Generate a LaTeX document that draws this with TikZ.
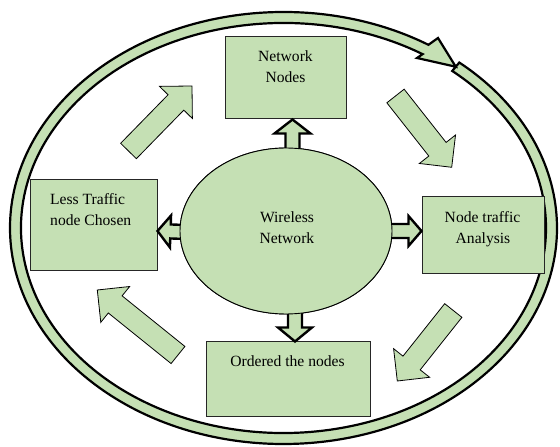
\documentclass[tikz,border=0pt]{standalone}
\usepackage{fontspec}
\setmainfont{Liberation Serif}
\usetikzlibrary{calc,shapes.geometric}
\definecolor{leaf}{HTML}{C5E0B4}

% Block arrow from #2 to the tip #3: #4 half shaft width, #5 half head width, #6 head length
\newcommand\blockarrow[6]{%
  \draw[#1] ($(#2)!#4!90:(#3)$)
    -- ($($(#3)!#6!(#2)$)!#4!90:(#3)$)
    -- ($($(#3)!#6!(#2)$)!#5!90:(#3)$)
    -- (#3)
    -- ($($(#3)!#6!(#2)$)!#5!-90:(#3)$)
    -- ($($(#3)!#6!(#2)$)!#4!-90:(#3)$)
    -- ($(#2)!#4!-90:(#3)$) -- cycle;}

\begin{document}
\begin{tikzpicture}[x=1pt,y=1pt,
  ring/.style={fill=leaf,draw=black,line width=2.2pt,line join=miter},
  bigarrow/.style={fill=leaf,draw=black,line width=0.8pt,line join=miter},
  linkarrow/.style={fill=leaf,draw=black,line width=2.4pt,line join=miter},
  stepbox/.style={rectangle,fill=leaf,draw=black!85,line width=1pt,inner sep=0pt},
  hub/.style={ellipse,fill=leaf,draw=black,line width=0.9pt,inner sep=0pt,
              minimum width=212pt,minimum height=166pt},
  label/.style={font=\fontsize{15.6}{18}\selectfont,inner sep=0pt,anchor=base}]

\path[use as bounding box] (0,0) rectangle (560,447);

% circular arrow around the whole cycle
\draw[ring] ({283.5+273.5*cos(50)},{219+216*sin(50)})
  arc[start angle=50,end angle=-302,x radius=273.5pt,y radius=216pt]
  -- (438,409) -- ({283.5+268*cos(50)},{219+210.5*sin(50)}) -- (417,389)
  -- ({283.5+262.5*cos(58)},{219+205*sin(58)})
  arc[start angle=58,end angle=410,x radius=262.5pt,y radius=205pt] -- cycle;

% large arrows showing the order of the steps
\coordinate (g1s) at (128.5,296);  \coordinate (g1e) at (192,361);
\coordinate (g2s) at (395.5,351);  \coordinate (g2e) at (451.7,279.7);
\coordinate (g3s) at (453.3,136.5); \coordinate (g3e) at (397.3,66);
\coordinate (g4s) at (178,92);     \coordinate (g4e) at (97.3,157);
\blockarrow{bigarrow}{g1s}{g1e}{11pt}{23pt}{23pt}
\blockarrow{bigarrow}{g2s}{g2e}{11pt}{23pt}{23pt}
\blockarrow{bigarrow}{g3s}{g3e}{11pt}{23pt}{23pt}
\blockarrow{bigarrow}{g4s}{g4e}{11pt}{23pt}{23pt}

% steps
\node[stepbox,minimum width=121pt,minimum height=82pt] (nn)  at (285.5,369) {};
\node[stepbox,minimum width=127pt,minimum height=91pt] (lt)  at (93.5,221.5) {};
\node[stepbox,minimum width=122pt,minimum height=77pt] (nta) at (483,211.5) {};
\node[stepbox,minimum width=164pt,minimum height=75pt] (otn) at (288,67.5) {};

% centre
\node[hub] (wn) at (286,216) {};

% arrows from the centre to each step
\coordinate (upS) at ([xshift=6.5pt,yshift=-5pt]wn.north);
\coordinate (upT) at ([xshift=7pt]nn.south);
\coordinate (dnS) at ([xshift=9pt,yshift=5pt]wn.south);
\coordinate (dnT) at ([xshift=7pt]otn.north);
\coordinate (lfS) at ([xshift=6pt,yshift=-1pt]wn.west);
\coordinate (lfT) at ([yshift=-5.5pt]lt.east);
\coordinate (rtS) at ([xshift=-6pt,yshift=0pt]wn.east);
\coordinate (rtT) at ([yshift=4.5pt]nta.west);
\blockarrow{linkarrow}{upS}{upT}{7pt}{18pt}{14pt}
\blockarrow{linkarrow}{dnS}{dnT}{7pt}{17pt}{14pt}
\blockarrow{linkarrow}{lfS}{lfT}{7pt}{16pt}{13pt}
\blockarrow{linkarrow}{rtS}{rtT}{7pt}{15pt}{13pt}
\node[hub] (wn2) at (wn) {};

% texts
\node[label] (t1) at (285.5,385) {Network};
\node[label] (t2) at (285.5,364) {Nodes};
\node[label,anchor=base west] (t3) at (50,242) {Less Traffic};
\node[label,anchor=base west] (t4) at (50,221) {node Chosen};
\node[label] (t5) at (482.5,224.3) {Node traffic};
\node[label] (t6) at (483,203.7) {Analysis};
\node[label] (t7) at (287.5,80.3) {Ordered the nodes};
\node[label] (t8) at (287,224) {Wireless};
\node[label] (t9) at (287,203) {Network};
\end{tikzpicture}
\end{document}
